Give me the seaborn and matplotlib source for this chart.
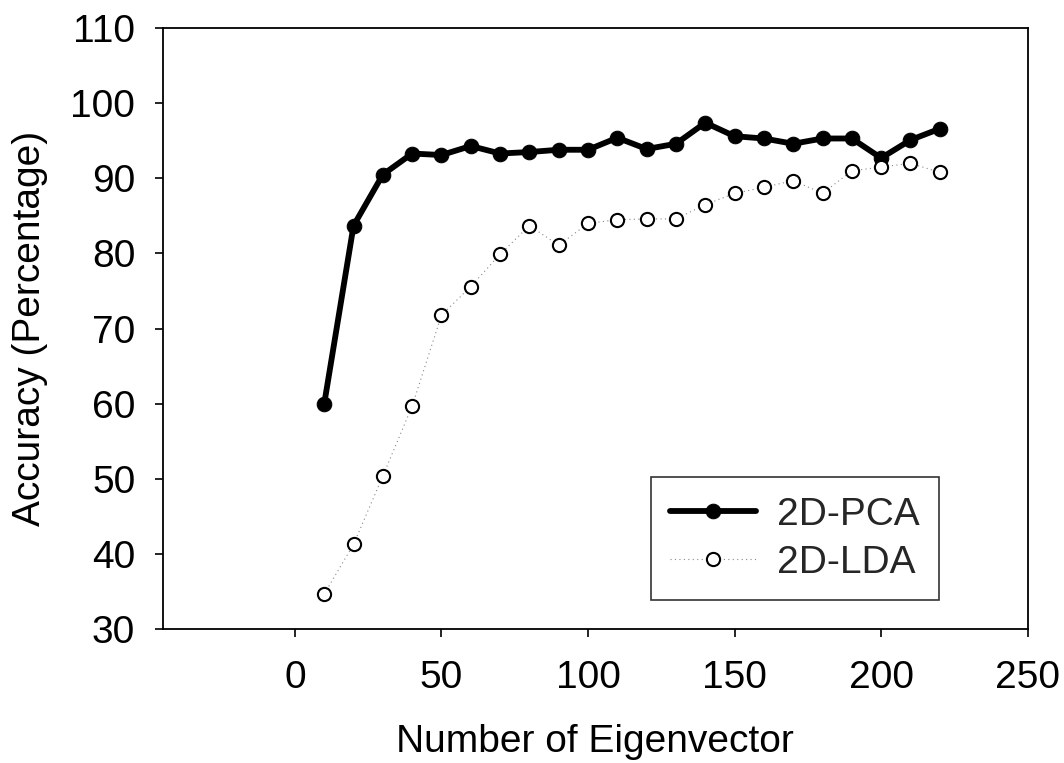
import matplotlib
matplotlib.use("Agg")
import matplotlib.pyplot as plt
import seaborn as sns
import pandas as pd

eigenvectors = [10, 20, 30, 40, 50, 60, 70, 80, 90, 100, 110, 120, 130, 140, 150,
                160, 170, 180, 190, 200, 210, 220]
pca_2d = [60.0, 83.7, 90.5, 93.3, 93.1, 94.3, 93.3, 93.5, 93.8, 93.8, 95.4, 93.9,
          94.6, 97.4, 95.6, 95.3, 94.6, 95.3, 95.3, 92.7, 95.1, 96.6]
lda_2d = [34.7, 41.3, 50.4, 59.7, 71.8, 75.6, 79.9, 83.7, 81.1, 84.0, 84.5, 84.6,
          84.6, 86.5, 88.0, 88.8, 89.7, 88.0, 91.0, 91.5, 92.0, 90.8]
x_ticks = [0, 50, 100, 150, 200, 250]
y_ticks = [30, 40, 50, 60, 70, 80, 90, 100, 110]

sns.set_theme(style="ticks")
plt.rcParams['font.family'] = ['Liberation Sans', 'DejaVu Sans']

df_pca = pd.DataFrame({"x": eigenvectors, "y": pca_2d})
df_lda = pd.DataFrame({"x": eigenvectors, "y": lda_2d})

fig = plt.figure(figsize=(10.64, 7.63), dpi=100)
ax = fig.add_axes([0.1532, 0.1752, 0.9659 - 0.1532, 0.9633 - 0.1752])

sns.lineplot(data=df_pca, x="x", y="y", ax=ax, color="black", linewidth=4.2,
             marker="o", markersize=10.5, markerfacecolor="black",
             markeredgecolor="black", label="2D-PCA")
sns.lineplot(data=df_lda, x="x", y="y", ax=ax, color="#888888", linewidth=0.8,
             linestyle=(0, (1, 3)), marker="o", markersize=9.5,
             markerfacecolor="white", markeredgecolor="black",
             markeredgewidth=1.5, label="2D-LDA")

ax.set_xlim(-45, 250)
ax.set_ylim(30, 110)
ax.set_xticks(x_ticks)
ax.set_yticks(y_ticks)
ax.tick_params(axis="both", direction="out", length=6, width=1.2, color="black",
               labelsize=28, labelcolor="black")
ax.tick_params(axis="x", pad=16)
ax.tick_params(axis="y", pad=14)
for s in ax.spines.values():
    s.set_visible(True)
    s.set_color("black")
    s.set_linewidth(1.3)

ax.set_xlabel("Number of Eigenvector", fontsize=28, color="black", labelpad=20)
ax.set_ylabel("Accuracy (Percentage)", fontsize=28, color="black", labelpad=16)

leg = ax.legend(loc="lower right", bbox_to_anchor=(0.8974, 0.0487), fontsize=28,
                frameon=True, fancybox=False, edgecolor="black",
                handlelength=2.2, borderpad=0.5, labelspacing=0.3,
                handletextpad=0.55, borderaxespad=0)
leg.get_frame().set_linewidth(1.2)

fig.savefig("out.png", dpi=100)
